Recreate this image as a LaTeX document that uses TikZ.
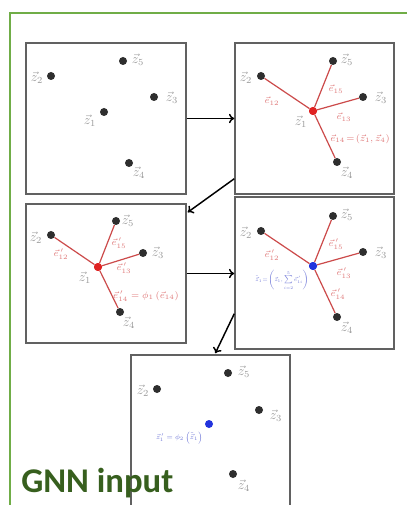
\documentclass[tikz,border=0pt]{standalone}
\usepackage{fontspec}
\usetikzlibrary{arrows.meta}
\newfontfamily\calfont{Carlito}
\definecolor{framegreen}{HTML}{70AD47}
\definecolor{titlegreen}{HTML}{375F1E}
\definecolor{dotgray}{HTML}{2E2E2E}
\definecolor{labgray}{HTML}{9A9A9A}
\definecolor{labred}{HTML}{E07A7A}
\definecolor{edgered}{HTML}{CC4A4A}
\definecolor{dotred}{HTML}{E02222}
\definecolor{dotblue}{HTML}{2233DD}
\definecolor{labblue}{HTML}{7078D8}
\begin{document}
\begin{tikzpicture}[x=0.75pt,y=-0.75pt,
  panel/.style={draw=black!62,line width=1.1pt,inner sep=0pt},
  dot/.style={circle,fill=dotgray,inner sep=0pt,minimum size=6pt},
  reddot/.style={dot,fill=dotred},
  bluedot/.style={dot,fill=dotblue},
  zlab/.style={text=labgray,font=\fontsize{10}{11}\selectfont,inner sep=0pt},
  elab/.style={text=labred,font=\fontsize{7.5}{8}\selectfont,inner sep=0pt},
  blab/.style={text=labblue,font=\fontsize{7}{8}\selectfont,inner sep=0pt},
  edgeline/.style={draw=edgered,line width=0.9pt},
  flow/.style={draw=black,line width=1.1pt,-{To[length=4pt,width=7pt]}},
  frame/.style={draw=framegreen,line width=2.1pt}]
\useasboundingbox (0,0) rectangle (406,505);
\fill[white] (0,0) rectangle (406,505);
% green frame
\draw[frame] (10,512) -- (10,13) -- (412,13);
% panels
\node[panel,minimum width=120pt,minimum height=113.25pt] (PA) at (106,118.5) {};
\node[panel,minimum width=119.25pt,minimum height=113.25pt] (PB) at (314.5,118.5) {};
\node[panel,minimum width=120pt,minimum height=104.25pt] (PC) at (106,273.5) {};
\node[panel,minimum width=119.25pt,minimum height=114pt] (PD) at (314.5,273) {};
\node[panel,minimum width=119.25pt,minimum height=127.5pt] (PE) at (210.5,440) {};
% flow arrows
\draw[flow] (PA.east) -- (PB.west |- PA.east);
\draw[flow] ([yshift=12pt]PB.south west) -- ([xshift=0.75pt,yshift=-6.75pt]PC.north east);
\draw[flow] (PC.east) -- (PD.west |- PC.east);
\draw[flow] ([yshift=27pt]PD.south west) -- ([xshift=63.75pt,yshift=0.75pt]PE.north west);

% ---------- Panel A ----------
\node[dot] (a1) at (104,112) {};
\node[dot] (a2) at (51,76) {};
\node[dot] (a3) at (154,97) {};
\node[dot] (a4) at (129,163) {};
\node[dot] (a5) at (123,61) {};
\node[zlab] (la1) at (90,121) {$\vec z_1$};
\node[zlab] (la2) at (37,78) {$\vec z_2$};
\node[zlab] (la3) at (172,98) {$\vec z_3$};
\node[zlab] (la4) at (139,173) {$\vec z_4$};
\node[zlab] (la5) at (138,60) {$\vec z_5$};

% ---------- Panel B ----------
\node[dot] (b2) at (261,76) {};
\node[dot] (b3) at (363,97) {};
\node[dot] (b4) at (337,162) {};
\node[dot] (b5) at (333,61) {};
\node[reddot] (b1) at (313,111) {};
\draw[edgeline] (b1) -- (b2);
\draw[edgeline] (b1) -- (b3);
\draw[edgeline] (b1) -- (b4);
\draw[edgeline] (b1) -- (b5);
\node[reddot] at (b1) {};
\node[zlab] (lb1) at (301,122) {$\vec z_1$};
\node[zlab] (lb2) at (246,78) {$\vec z_2$};
\node[zlab] (lb3) at (381,98) {$\vec z_3$};
\node[zlab] (lb4) at (347,173) {$\vec z_4$};
\node[zlab] (lb5) at (347,60) {$\vec z_5$};
\node[elab] (eb2) at (272,101) {$\vec e_{12}$};
\node[elab] (eb5) at (336,89) {$\vec e_{15}$};
\node[elab] (eb3) at (344,117) {$\vec e_{13}$};
\node[elab] (eb4) at (360,139) {$\vec e_{14}\!=\!\left(\vec z_1,\vec z_4\right)$};

% ---------- Panel C ----------
\node[dot] (c2) at (51,235) {};
\node[dot] (c3) at (143,253) {};
\node[dot] (c4) at (120,312) {};
\node[dot] (c5) at (116,221) {};
\node[reddot] (c1) at (98,267) {};
\draw[edgeline] (c1) -- (c2);
\draw[edgeline] (c1) -- (c3);
\draw[edgeline] (c1) -- (c4);
\draw[edgeline] (c1) -- (c5);
\node[reddot] at (c1) {};
\node[zlab] (lc1) at (85,278) {$\vec z_1$};
\node[zlab] (lc2) at (36,238) {$\vec z_2$};
\node[zlab] (lc3) at (158,253) {$\vec z_3$};
\node[zlab] (lc4) at (129,323) {$\vec z_4$};
\node[zlab] (lc5) at (128,221) {$\vec z_5$};
\node[elab] (ec2) at (61,254) {$\vec e^{\,\prime}_{12}$};
\node[elab] (ec5) at (119,243) {$\vec e^{\,\prime}_{15}$};
\node[elab] (ec3) at (124,268) {$\vec e^{\,\prime}_{13}$};
\node[elab] (ec4) at (146,296) {$\vec e^{\,\prime}_{14}=\phi_1\left(\vec e_{14}\right)$};

% ---------- Panel D ----------
\node[dot] (d2) at (261,231) {};
\node[dot] (d3) at (363,252) {};
\node[dot] (d4) at (337,317) {};
\node[dot] (d5) at (333,216) {};
\node[bluedot] (d1) at (313,266) {};
\draw[edgeline] (d1) -- (d2);
\draw[edgeline] (d1) -- (d3);
\draw[edgeline] (d1) -- (d4);
\draw[edgeline] (d1) -- (d5);
\node[bluedot] at (d1) {};
\node[zlab] (ld2) at (246,233) {$\vec z_2$};
\node[zlab] (ld3) at (381,253) {$\vec z_3$};
\node[zlab] (ld4) at (347,328) {$\vec z_4$};
\node[zlab] (ld5) at (347,215) {$\vec z_5$};
\node[elab] (ed2) at (272,255) {$\vec e^{\,\prime}_{12}$};
\node[elab] (ed5) at (336,244) {$\vec e^{\,\prime}_{15}$};
\node[elab] (ed3) at (344,273) {$\vec e^{\,\prime}_{13}$};
\node[elab] (ed4) at (338,294) {$\vec e^{\,\prime}_{14}$};
\node[blab,anchor=east] (bd1) at (309,280) {\resizebox{40pt}{!}{$\tilde{\vec z}_1\!=\!\left(\vec z_1,\sum\limits_{i=2}^{5}\vec e^{\,\prime}_{1i}\right)$}};

% ---------- Panel E ----------
\node[dot] (e2) at (157,389) {};
\node[dot] (e3) at (259,410) {};
\node[dot] (e4) at (233,474) {};
\node[dot] (e5) at (228,373) {};
\node[bluedot] (e1) at (209,424) {};
\node[zlab] (le2) at (143,391) {$\vec z_2$};
\node[zlab] (le3) at (276,416) {$\vec z_3$};
\node[zlab] (le4) at (244,486) {$\vec z_4$};
\node[zlab] (le5) at (244,372) {$\vec z_5$};
\node[blab,anchor=east] (be1) at (203,438) {\resizebox{35pt}{!}{$\vec z^{\,\prime}_1=\phi_2\left(\tilde{\vec z}_1\right)$}};

% title
\node[anchor=base west,inner sep=0pt,text=titlegreen,font=\calfont\bfseries\fontsize{26}{28}\selectfont] (title) at (21,492) {GNN input};
\end{tikzpicture}
\end{document}
